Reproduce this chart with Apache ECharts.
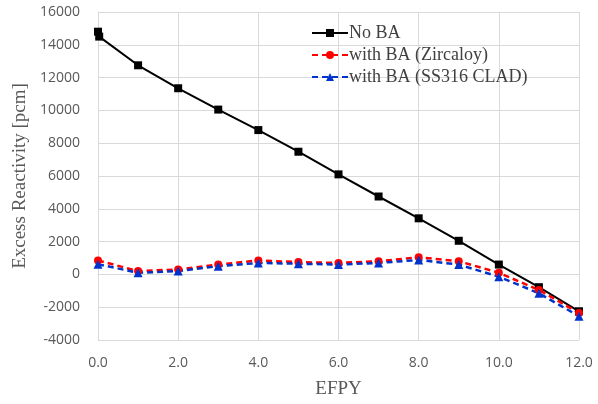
<!DOCTYPE html>
<html>
<head>
<meta charset="utf-8">
<script src="https://cdn.jsdelivr.net/npm/echarts@6/dist/echarts.min.js"></script>
<style>
    html, body {margin: 0; padding: 0; background: #fff;}
    #chart {width: 598px; height: 404px;}
</style>
</head>
<body>
<div id="chart"></div>
<script>
// EFPY values and excess reactivity [pcm]
const efpyNoBA = [0, 0.03, 1, 2, 3, 4, 5, 6, 7, 8, 9, 10, 11, 12];
const noBA = [14800, 14500, 12750, 11350, 10050, 8800, 7480, 6100, 4750, 3420, 2050, 600, -780, -2250];

const efpyBA = [0, 1, 2, 3, 4, 5, 6, 7, 8, 9, 10, 11, 12];
const zircaloy = [850, 200, 300, 600, 850, 750, 700, 800, 1050, 800, 100, -950, -2350];
const ss316 = [620, 100, 200, 500, 700, 650, 600, 700, 880, 600, -140, -1150, -2550];

const xTicks = {min: 0, max: 12, interval: 2};
const yTicks = {min: -4000, max: 16000, interval: 2000};

function pairs(xs, ys) {
    return xs.map((x, i) => [x, ys[i]]);
}

let chart = echarts.init(document.getElementById('chart'));

let tickFont = {color: '#595959', fontSize: 14, fontFamily: 'Open Sans'};
let titleFont = {color: '#595959', fontSize: 19, fontFamily: 'Liberation Serif'};

let option = {
    animation: false,
    grid: {left: 98, right: 19, top: 12, bottom: 60},
    legend: {
        orient: 'vertical',
        left: 306,
        top: 19,
        itemWidth: 36,
        itemHeight: 10,
        itemGap: 4,
        textStyle: {color: '#404040', fontSize: 18, fontFamily: 'Liberation Serif', padding: [0, 0, 0, -4]},
        data: ['No BA', 'with BA (Zircaloy)', 'with BA (SS316 CLAD)']
    },
    xAxis: {
        type: 'value',
        min: xTicks.min,
        max: xTicks.max,
        interval: xTicks.interval,
        name: 'EFPY',
        nameLocation: 'middle',
        nameGap: 40,
        nameTextStyle: titleFont,
        axisLine: {show: true, lineStyle: {color: '#d9d9d9'}},
        axisTick: {show: false},
        axisLabel: Object.assign({margin: 16, formatter: v => v.toFixed(1)}, tickFont),
        splitLine: {show: true, lineStyle: {color: '#d9d9d9'}}
    },
    yAxis: {
        type: 'value',
        min: yTicks.min,
        max: yTicks.max,
        interval: yTicks.interval,
        name: 'Excess Reactivity [pcm]',
        nameLocation: 'middle',
        nameGap: 61,
        nameTextStyle: titleFont,
        axisLine: {show: true, lineStyle: {color: '#d9d9d9'}},
        axisTick: {show: false},
        axisLabel: Object.assign({margin: 18, formatter: v => String(v)}, tickFont),
        splitLine: {show: true, lineStyle: {color: '#d9d9d9'}}
    },
    series: [
        {
            name: 'No BA',
            type: 'line',
            data: pairs(efpyNoBA, noBA),
            symbol: 'rect',
            symbolSize: 8,
            itemStyle: {color: '#000'},
            lineStyle: {color: '#000', width: 2}
        },
        {
            name: 'with BA (Zircaloy)',
            type: 'line',
            data: pairs(efpyBA, zircaloy),
            symbol: 'circle',
            symbolSize: 8,
            itemStyle: {color: '#ff0000'},
            lineStyle: {color: '#ff0000', width: 2.5, type: [6, 4]}
        },
        {
            name: 'with BA (SS316 CLAD)',
            type: 'line',
            data: pairs(efpyBA, ss316),
            symbol: 'triangle',
            symbolSize: 9,
            itemStyle: {color: '#0033cc'},
            lineStyle: {color: '#0033cc', width: 2.5, type: [6, 4]}
        }
    ]
};

chart.setOption(option);
</script>
</body>
</html>
